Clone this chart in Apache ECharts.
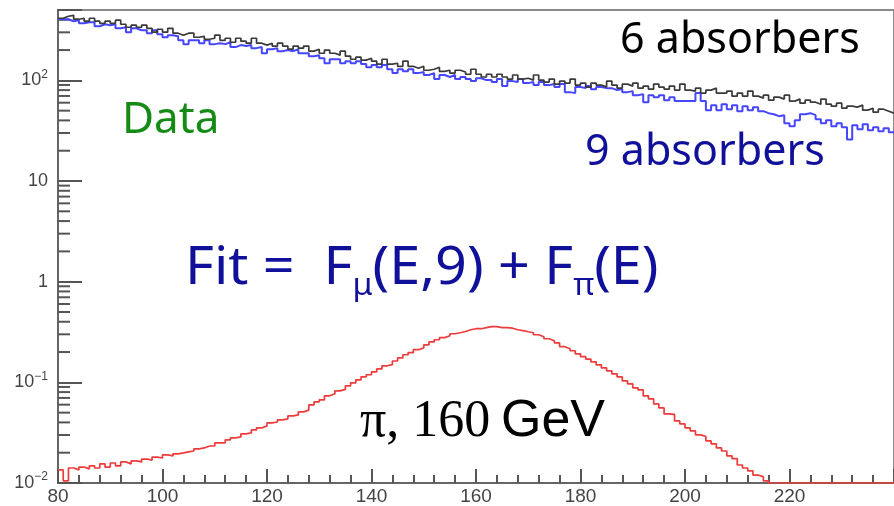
<!DOCTYPE html>
<html><head><meta charset="utf-8">
<script src="https://cdn.jsdelivr.net/npm/echarts@6/dist/echarts.min.js"></script>
<style>html,body{margin:0;padding:0;background:#fff}#c{width:894px;height:506px}</style>
</head><body><div id="c"></div>
<script>
const binStart = 80, binWidth = 1;

const sixAbsorbers = [
414,433,443,405,414,387,414,387,369,387,
369,396,361,337,353,337,353,329,301,322,
301,329,294,281,294,294,268,274,256,262,
281,250,262,239,262,245,234,262,234,224,
234,219,234,219,204,219,209,219,195,204,
186,200,186,178,195,174,162,170,159,166,
155,145,162,145,148,138,155,138,132,138,
126,129,135,123,126,118,126,121,115,129,
115,108,115,108,115,108,103,113,103,105,
100.6,113,100.6,96.1,103,91.8,98.3,93.9,103,89.7,
93.9,85.7,93.9,89.7,85.7,98.3,89.7,83.7,91.8,87.7,
93.9,83.7,87.7,81.8,91.8,85.7,81.8,87.7,80.0,91.8,
80.0,78.2,83.7,74.7,80.0,83.7,74.7,74.7,78.2,69.7,
74.7,69.7,78.2,69.7,66.6,71.3,63.6,68.1,65.1,71.3,
62.2,65.1,59.4,63.6,60.7,58.0,65.1,58.0,55.4,59.4,
52.9,55.4,54.2,56.7,50.6,52.9,48.3,51.7,49.4,47.2
];

const nineAbsorbers = [
405,405,387,396,369,378,378,345,361,353,
361,329,337,301,329,315,315,294,315,287,
268,281,274,250,229,250,250,234,250,229,
234,229,239,214,224,219,224,209,214,186,
204,209,195,200,195,204,186,186,174,178,
166,148,162,162,148,155,148,155,145,135,
142,135,142,129,118,129,123,129,118,121,
113,118,103,113,108,113,103,108,103,98.3,
105,100.6,100.6,96.1,103,87.7,98.3,96.1,103,93.9,
96.1,89.7,96.1,89.7,91.8,85.7,91.8,76.4,74.7,85.7,
83.7,87.7,81.8,85.7,83.7,83.7,80.0,81.8,76.4,78.2,
71.3,73.0,60.7,71.3,68.1,71.3,63.6,68.1,62.2,62.2,
62.2,62.2,74.7,62.2,50.6,56.7,50.6,58.0,51.7,56.7,
49.4,55.4,50.6,54.2,49.4,47.2,46.1,44.1,45.1,37.5,
35.0,40.2,46.1,47.2,45.1,41.1,37.5,40.2,35.0,37.5,
34.2,25.9,35.8,32.7,36.7,32.0,34.2,31.2,33.5,30.5
];

const piFit = [
0.0135,0.0105,0.0141,0.0135,0.0144,0.0138,0.0148,0.0141,0.0155,0.0144,
0.0158,0.0148,0.0162,0.0155,0.0166,0.0162,0.0173,0.0169,0.0181,0.0177,
0.0190,0.0186,0.0195,0.0199,0.0204,0.0208,0.0218,0.0223,0.0233,0.0233,
0.0250,0.0250,0.0268,0.0281,0.0287,0.0308,0.0315,0.0337,0.0353,0.0369,
0.0395,0.0404,0.0424,0.0434,0.0465,0.0475,0.0509,0.0530,0.0597,0.0640,
0.0670,0.0735,0.0769,0.0823,0.0850,0.0923,0.0989,0.1059,0.1135,0.119,
0.127,0.136,0.146,0.150,0.163,0.175,0.188,0.197,0.211,0.220,
0.236,0.252,0.265,0.278,0.290,0.304,0.311,0.320,0.333,0.341,
0.341,0.349,0.357,0.357,0.349,0.349,0.345,0.333,0.326,0.318,
0.311,0.297,0.284,0.271,0.259,0.247,0.226,0.216,0.206,0.192,
0.180,0.170,0.160,0.149,0.139,0.130,0.1215,0.1135,0.1035,0.0966,
0.0882,0.0840,0.0735,0.0686,0.0611,0.0557,0.0486,0.0480,0.0414,0.0386,
0.0353,0.0330,0.0301,0.0290,0.0262,0.0245,0.0223,0.0208,0.0186,0.0175,
0.0151,0.0141,0.0132,0.0120,0.0115,0.0105,0.01,0.01,0.01,0.01,
0.01,0.01,0.01,0.01,0.01,0.01,0.01,0.01,0.01,0.01,
0.01,0.01,0.01,0.01,0.01,0.01,0.01,0.01,0.01,0.01
];

const yMinorTicks = [0.02,0.03,0.04,0.05,0.06,0.07,0.08,0.09,
  0.2,0.3,0.4,0.5,0.6,0.7,0.8,0.9,
  2,3,4,5,6,7,8,9,
  20,30,40,50,60,70,80,90,
  200,300,400];

function toSteps(arr) {
  const d = arr.map((v, i) => [binStart + i * binWidth, v]);
  d.push([binStart + arr.length * binWidth, arr[arr.length - 1]]);
  return d;
}
function yLabel(v) {
  const e = Math.log10(v), r = Math.round(e);
  if (Math.abs(e - r) > 1e-6) return '';
  if (r === 0) return '{b|1}';
  if (r === 1) return '{b|10}';
  return '{b|10}{s|' + (r < 0 ? '\u2212' + (-r) : r) + '}';
}

const axisGray = '#666';
const tickGray = '#555';
const navy = '#10109a';

const chart = echarts.init(document.getElementById('c'), null, {renderer: 'canvas', width: 894, height: 506});
chart.setOption({
  animation: false,
  grid: {left: 58, right: -16, top: 10, bottom: 23, show: true, borderColor: '#8a8a8a', borderWidth: 2},
  xAxis: {
    type: 'value', min: 80, max: 240, interval: 20,
    axisLine: {onZero: false, lineStyle: {color: axisGray, width: 2}},
    axisTick: {inside: true, length: 14, lineStyle: {color: tickGray, width: 2}},
    minorTick: {show: true, splitNumber: 5, length: 8, lineStyle: {color: tickGray, width: 2}},
    splitLine: {show: false},
    axisLabel: {color: '#444', fontSize: 19, margin: 4, fontFamily: 'Liberation Sans', showMaxLabel: false}
  },
  yAxis: {
    type: 'log', logBase: 10, min: 0.01, max: 500,
    axisLine: {show: true, lineStyle: {color: axisGray, width: 2}},
    axisTick: {show: true, inside: true, length: 24, lineStyle: {color: tickGray, width: 2}},
    splitLine: {show: false},
    axisLabel: {
      formatter: yLabel, margin: 10,
      rich: {
        b: {fontSize: 18, color: '#444', fontFamily: 'Liberation Sans', lineHeight: 24},
        s: {fontSize: 12, color: '#444', fontFamily: 'Liberation Sans', lineHeight: 12, verticalAlign: 'top'}
      }
    }
  },
  series: [
    {
      type: 'custom', silent: true, z: 3,
      data: yMinorTicks.map(v => [80, v]),
      renderItem: (params, api) => {
        const p = api.coord([api.value(0), api.value(1)]);
        return {type: 'line', shape: {x1: p[0], y1: p[1], x2: p[0] + 12, y2: p[1]}, style: {stroke: tickGray, lineWidth: 2}};
      }
    },
    {type: 'line', step: 'end', data: toSteps(nineAbsorbers), showSymbol: false, silent: true,
      lineStyle: {color: '#4646ff', width: 2}},
    {type: 'line', step: 'end', data: toSteps(sixAbsorbers), showSymbol: false, silent: true,
      lineStyle: {color: '#3a3a3a', width: 1.7}},
    {type: 'line', step: 'end', data: toSteps(piFit), showSymbol: false, silent: true,
      lineStyle: {color: '#ee3b3b', width: 1.7}}
  ],
  graphic: [
    {type: 'text', x: 620, y: 41, style: {text: '6 absorbers', font: '43px "Noto Sans"', fill: '#000', align: 'left', verticalAlign: 'middle'}},
    {type: 'text', x: 122, y: 120, style: {text: 'Data', font: '44px "Noto Sans"', fill: '#158a15', align: 'left', verticalAlign: 'middle'}},
    {type: 'text', x: 585, y: 153, style: {text: '9 absorbers', font: '43px "Noto Sans"', fill: navy, align: 'left', verticalAlign: 'middle'}},
    {type: 'text', x: 185, y: 269, scaleX: 1.07, style: {
      text: '{n|Fit =  F}{s|\u03bc}{n|(E,9) + F}{s|\u03c0}{n|(E)}',
      align: 'left', verticalAlign: 'middle',
      rich: {
        n: {font: '52px "Noto Sans"', fill: navy, lineHeight: 64},
        s: {font: '30px "Noto Sans"', fill: navy, lineHeight: 30, verticalAlign: 'bottom'}
      }}},
    {type: 'text', x: 360, y: 422, style: {text: '\u03c0, 160', font: '52px "Liberation Serif"', fill: '#000', align: 'left', verticalAlign: 'middle'}},
    {type: 'text', x: 501, y: 422, style: {text: 'GeV', font: '52px "Liberation Sans"', fill: '#000', align: 'left', verticalAlign: 'middle'}}
  ]
});
</script>
</body></html>
